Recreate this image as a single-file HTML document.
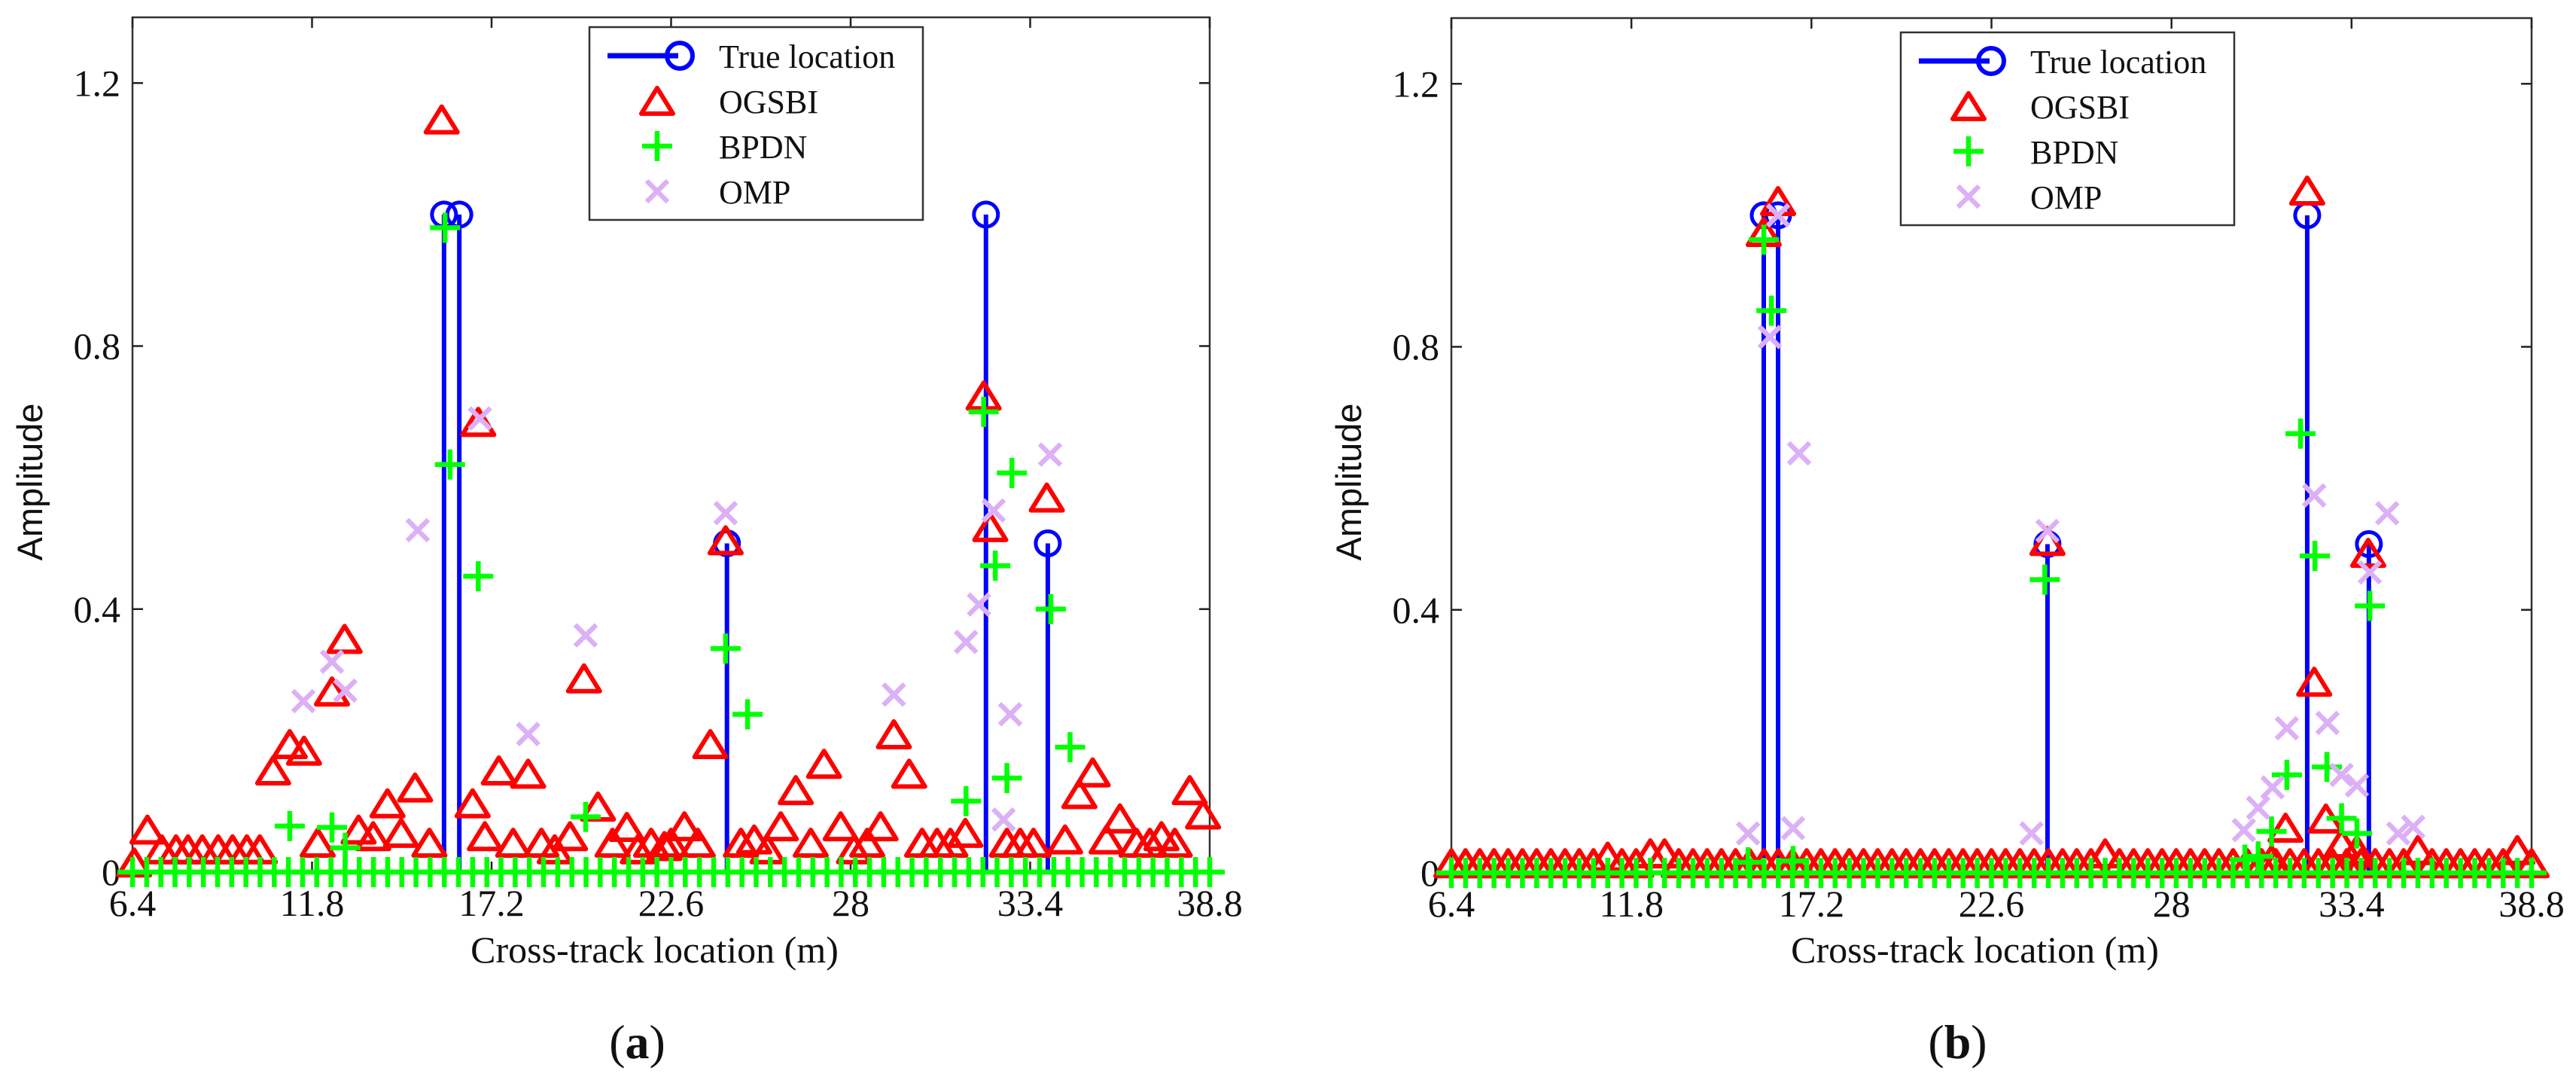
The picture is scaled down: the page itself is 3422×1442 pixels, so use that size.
<!DOCTYPE html>
<html><head><meta charset="utf-8">
<style>
html,body{margin:0;padding:0;background:#fff;}
svg{display:block;}
text{font-family:"Liberation Serif",serif;fill:#111;}
.sans{font-family:"Liberation Sans",sans-serif;}
</style></head>
<body>
<svg id="fig" width="3422" height="1442" viewBox="0 0 3422 1442" xmlns="http://www.w3.org/2000/svg">
<rect width="3422" height="1442" fill="#fff"/>
</svg>
<script>
// ---- shared axis data ----
const xTicks = [6.4, 11.8, 17.2, 22.6, 28, 33.4, 38.8];
const xTickLabels = ["6.4","11.8","17.2","22.6","28","33.4","38.8"];
const yTicks = [0, 0.4, 0.8, 1.2];
const yTickLabels = ["0","0.4","0.8","1.2"];
const gridCount = 77;

// ---- panel (a) data ----
const trueX_a = [15.77, 16.23, 24.28, 32.07, 33.93];
const trueY_a = [1, 1, 0.5, 1, 0.5];
const ogsbiX_a = [6.45,6.85,7.28,7.71,8.07,8.5,8.98,9.41,9.84,10.23,10.63,11.13,11.56,11.97,12.4,12.78,13.2,13.64,14.07,14.48,14.9,15.33,15.7,16.63,16.8,17.0,17.42,17.85,18.3,18.7,19.1,19.56,19.98,20.4,20.84,21.27,21.6,22.0,22.4,22.6,23.0,23.4,23.78,24.24,24.7,25.1,25.5,25.9,26.35,26.8,27.2,27.7,28.1,28.5,28.9,29.3,29.76,30.15,30.6,31.0,31.45,32.0,32.2,32.7,33.1,33.5,33.9,34.45,34.88,35.28,35.7,36.1,36.6,37.0,37.35,37.75,38.2,38.6];
const ogsbiY_a = [0.01,0.06,0.03,0.03,0.03,0.03,0.03,0.03,0.03,0.03,0.15,0.19,0.18,0.04,0.27,0.35,0.06,0.05,0.10,0.055,0.124,0.04,1.14,0.10,0.68,0.05,0.15,0.04,0.145,0.04,0.03,0.05,0.29,0.095,0.04,0.064,0.03,0.04,0.035,0.04,0.065,0.04,0.19,0.50,0.04,0.045,0.03,0.065,0.12,0.04,0.16,0.065,0.03,0.04,0.065,0.205,0.145,0.04,0.04,0.04,0.055,0.72,0.52,0.04,0.04,0.04,0.565,0.045,0.114,0.147,0.045,0.077,0.04,0.04,0.05,0.04,0.12,0.083];
const bpdnX_a = [11.13,12.4,12.8,15.8,15.95,16.8,20.03,24.24,24.9,31.47,32.0,32.35,32.7,32.85,34.02,34.6];
const bpdnY_a = [0.07,0.068,0.037,0.98,0.62,0.45,0.084,0.34,0.24,0.108,0.70,0.466,0.143,0.607,0.40,0.19];
const ompX_a = [11.54,12.4,12.8,14.98,16.85,18.3,20.03,24.24,29.3,31.47,31.86,32.3,32.6,32.8,34.0];
const ompY_a = [0.26,0.32,0.276,0.52,0.69,0.21,0.36,0.546,0.27,0.35,0.407,0.55,0.08,0.24,0.635];

// ---- panel (b) data ----
const trueX_b = [15.77, 16.2, 24.28, 32.07, 33.92];
const trueY_b = [1, 1, 0.5, 1, 0.5];
const ogsbiBase_b = [0.01,0.01,0.01,0.01,0.01,0.01,0.01,0.01,0.01,0.01,0.01,0.02,0.01,0.01,0.025,0.025,0.01,0.01,0.01,0.01,0.01,0.01,0.01,0.01,0.01,0.01,0.01,0.01,0.01,0.01,0.01,0.01,0.01,0.01,0.01,0.01,0.01,0.01,0.01,0.01,0.01,0.01,0.01,0.01,0.01,0.01,0.025,0.01,0.01,0.01,0.01,0.01,0.01,0.01,0.01,0.01,0.01,0.01,0.01,0.01,0.01,0.01,0.01,0.01,0.01,0.01,0.01,0.01,0.03,0.01,0.01,0.01,0.01,0.01,0.01,0.03,0.01];
const ogsbiX_b = [15.77,16.2,24.28,32.07,32.28,33.9,31.42,32.63,33.1,33.56,31.0];
const ogsbiY_b = [0.97,1.017,0.50,1.033,0.286,0.482,0.064,0.078,0.04,0.03,0.015];
const bpdnX_b = [15.77,16.0,15.3,16.65,24.2,31.87,32.3,33.95,31.46,32.66,33.1,33.56,31.0,30.2,30.6];
const bpdnY_b = [0.963,0.855,0.016,0.018,0.446,0.668,0.482,0.406,0.149,0.161,0.083,0.06,0.063,0.02,0.025];
const ompX_b = [16.2,15.95,16.83,15.3,16.65,24.28,23.8,32.28,33.95,34.47,31.46,32.68,31.03,30.6,30.17,33.1,33.56,34.8,35.25];
const ompY_b = [1.0,0.815,0.638,0.06,0.068,0.52,0.06,0.574,0.457,0.547,0.22,0.228,0.13,0.099,0.065,0.149,0.133,0.06,0.07];

const NS = "http://www.w3.org/2000/svg";
const svg = document.getElementById("fig");
function mk(tag, attrs, parent){
  const e = document.createElementNS(NS, tag);
  for (const k in attrs) e.setAttribute(k, attrs[k]);
  (parent||svg).appendChild(e);
  return e;
}
const RED="#ff0000", GREEN="#00ff00", BLUE="#0000ff", PURPLE="#dcb0f7";

function triangle(g, cx, cy){
  const h=34, w=42;
  const e = mk("polygon",{points:`${cx},${cy-h*0.62} ${cx-w/2},${cy+h*0.38} ${cx+w/2},${cy+h*0.38}`,fill:"none",stroke:RED,"stroke-width":6,"stroke-linejoin":"round"},g);
  
  
}
function plus(g, cx, cy){
  const s=20;
  const e = mk("path",{d:`M${cx-s},${cy}H${cx+s}M${cx},${cy-s}V${cy+s}`,stroke:GREEN,"stroke-width":6.5,fill:"none"},g);
  
  
}
function cross(g, cx, cy){
  const s=14;
  const e = mk("path",{d:`M${cx-s},${cy-s}L${cx+s},${cy+s}M${cx-s},${cy+s}L${cx+s},${cy-s}`,stroke:PURPLE,"stroke-width":6.5,fill:"none"},g);
  
  
}

function panel(id, L, R, T, B, d){
  const xmin=6.4, xmax=38.8, ymax=1.3;
  const sx = v => L + (v-xmin)/(xmax-xmin)*(R-L);
  const sy = v => B - v/ymax*(B-T);
  const g = mk("g",{});
  
  
  const box = mk("rect",{x:L,y:T,width:R-L,height:B-T,fill:"none",stroke:"#333","stroke-width":2.5},g);
  
  
  xTicks.forEach((t,i)=>{
    const x=sx(t);
    const tk = mk("path",{d:`M${x},${B}V${B-14}M${x},${T}V${T+14}`,stroke:"#222","stroke-width":2.5},g);
    
    
    const lb = mk("text",{x:x,y:B+58,"font-size":50,"text-anchor":"middle"},g);
    lb.textContent = xTickLabels[i];
    
    
  });
  yTicks.forEach((t,i)=>{
    const y=sy(t);
    const tk = mk("path",{d:`M${L},${y}H${L+14}M${R},${y}H${R-14}`,stroke:"#222","stroke-width":2.5},g);
    
    
    const lb = mk("text",{x:L-16,y:y+17,"font-size":50,"text-anchor":"end"},g);
    lb.textContent = yTickLabels[i];
    
    
  });
  const xt = mk("text",{x:(L+R)/2-22,y:1278,"font-size":50,"text-anchor":"middle"},g);
  xt.textContent="Cross-track location (m)";
  
  
  const yt = mk("text",{x:0,y:0,"font-size":47,"text-anchor":"middle","class":"sans",transform:`translate(${L-120},${640}) rotate(-90)`},g);
  yt.textContent="Amplitude";
  
  
  const pl = mk("text",{x:(L+R)/2-45,y:1405,"font-size":64,"text-anchor":"middle"},g);
  pl.innerHTML = '(<tspan font-weight="bold">'+id+'</tspan>)';
  
  

  d.trueX.forEach((v,i)=>{
    const x=sx(v), y=sy(d.trueY[i]);
    const st = mk("line",{x1:x,y1:B,x2:x,y2:y,stroke:BLUE,"stroke-width":6},g);
    
    
    const c = mk("circle",{cx:x,cy:y,r:16,fill:"none",stroke:BLUE,"stroke-width":5},g);
    
    
  });
  if (d.ogsbiBase) d.ogsbiBase.forEach((v,i)=>{ triangle(g, sx(xmin+i*(xmax-xmin)/(gridCount-1)), sy(v)); });
  d.ogsbiX.forEach((v,i)=>triangle(g, sx(v), sy(d.ogsbiY[i])));
  for (let i=0;i<gridCount;i++){ plus(g, sx(xmin+i*(xmax-xmin)/(gridCount-1)), sy(0)); }
  d.bpdnX.forEach((v,i)=>plus(g, sx(v), sy(d.bpdnY[i])));
  d.ompX.forEach((v,i)=>cross(g, sx(v), sy(d.ompY[i])));

  const lx = d.legX, ly = d.legY;
  const lg = mk("g",{},g);
  
  
  mk("rect",{x:lx,y:ly,width:443,height:256,fill:"#fff",stroke:"#333","stroke-width":2.5},lg);
  const rows=[["True location",0],["OGSBI",1],["BPDN",2],["OMP",3]];
  rows.forEach(([name,k])=>{
    const ry = ly+38+k*60;
    const ent = mk("g",{},lg);
    
    
    if(k===0){
      mk("line",{x1:lx+24,y1:ry,x2:lx+118,y2:ry,stroke:BLUE,"stroke-width":7},ent);
      mk("circle",{cx:lx+120,cy:ry,r:17,fill:"none",stroke:BLUE,"stroke-width":6},ent);
    } else if(k===1) triangle(ent, lx+90, ry+4);
    else if(k===2) plus(ent, lx+90, ry);
    else cross(ent, lx+90, ry);
    const t = mk("text",{x:lx+172,y:ry+16,"font-size":44},ent);
    t.textContent=name;
  });
}

panel("a", 176, 1607, 23, 1158, {
  trueX:trueX_a, trueY:trueY_a, ogsbiX:ogsbiX_a, ogsbiY:ogsbiY_a,
  bpdnX:bpdnX_a, bpdnY:bpdnY_a, ompX:ompX_a, ompY:ompY_a, legX:783, legY:36
});
panel("b", 1928, 3363, 24, 1159, {
  trueX:trueX_b, trueY:trueY_b, ogsbiBase:ogsbiBase_b, ogsbiX:ogsbiX_b, ogsbiY:ogsbiY_b,
  bpdnX:bpdnX_b, bpdnY:bpdnY_b, ompX:ompX_b, ompY:ompY_b, legX:2525, legY:43
});
</script>
</body></html>
